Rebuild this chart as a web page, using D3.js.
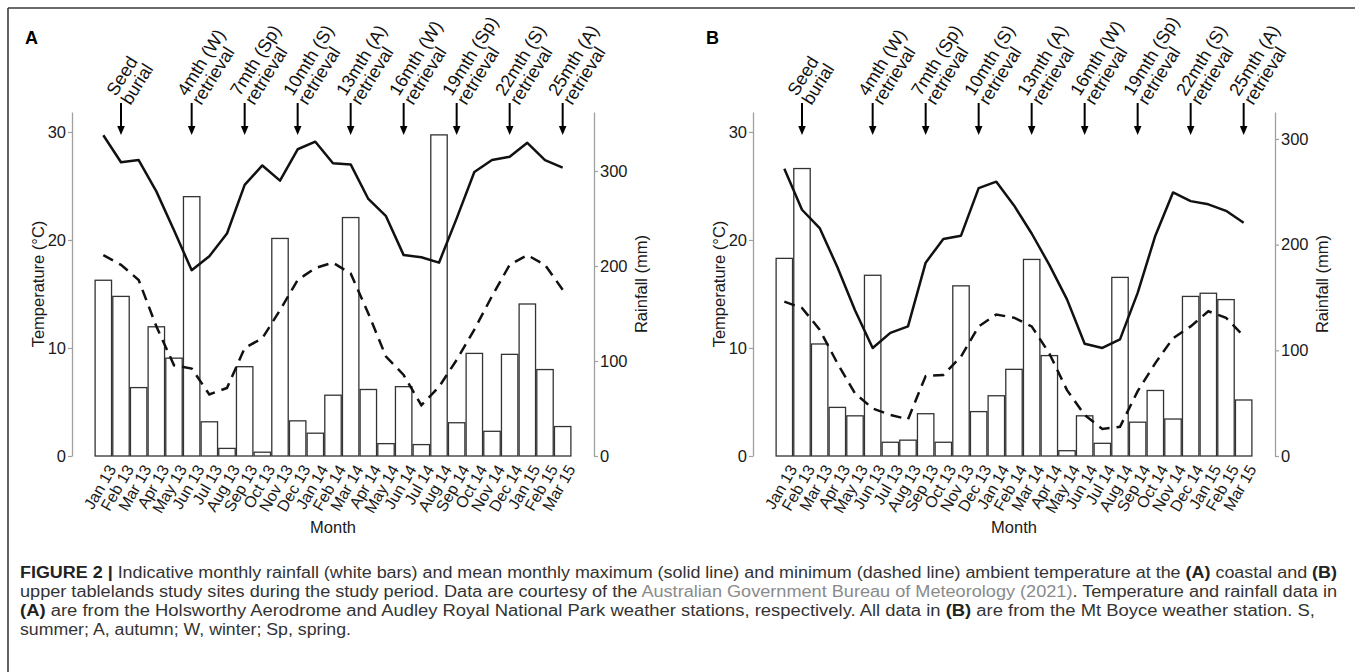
<!DOCTYPE html>
<html>
<head>
<meta charset="utf-8">
<script src="https://cdn.jsdelivr.net/npm/d3@7"></script>
<style>
  html, body { margin: 0; padding: 0; background: #fff; }
  svg { display: block; font-family: "Liberation Sans", Arial, Helvetica, sans-serif; }
</style>
</head>
<body>
<svg id="chart" width="1355" height="672"></svg>
<script>
// ---------- DATA ----------
const months = ["Jan 13","Feb 13","Mar 13","Apr 13","May 13","Jun 13","Jul 13","Aug 13","Sep 13","Oct 13","Nov 13","Dec 13",
                "Jan 14","Feb 14","Mar 14","Apr 14","May 14","Jun 14","Jul 14","Aug 14","Sep 14","Oct 14","Nov 14","Dec 14",
                "Jan 15","Feb 15","Mar 15"];

// Panel A (coastal)
const rainA = [185,168,72,136,103,273,36,8,94,4,229,37,24,64,251,70,13,73,12,338,35,108,26,107,160,91,31];
const maxA  = [29.7,27.2,27.4,24.5,20.9,17.2,18.5,20.6,25.1,26.9,25.5,28.4,29.1,27.1,27.0,23.8,22.2,18.6,18.4,17.9,22.0,26.3,27.4,27.7,29.0,27.4,26.7];
const minA  = [18.6,17.7,16.3,12.0,8.4,8.1,5.7,6.3,10.0,10.9,13.5,16.3,17.4,17.9,16.9,13.2,9.2,7.5,4.7,6.4,8.9,11.7,14.8,17.7,18.6,17.7,15.4];

// Panel B (upper tablelands)
const rainB = [187,272,106,46,38,171,13,15,40,13,161,42,57,82,186,95,5,38,12,169,32,62,35,151,154,148,53];
const maxB  = [26.6,22.8,21.1,17.5,13.5,10.0,11.4,12.0,17.9,20.1,20.4,24.8,25.4,23.2,20.6,17.7,14.5,10.4,10.0,10.8,15.1,20.4,24.4,23.6,23.3,22.7,21.6];
const minB  = [14.3,13.7,11.7,8.6,5.8,4.4,3.8,3.4,7.4,7.5,9.2,12.0,13.1,12.8,12.0,9.5,6.1,3.8,2.5,2.7,6.0,8.6,10.9,12.0,13.4,12.8,11.1];

const arrowMonths = ["Feb 13","Jun 13","Sep 13","Dec 13","Mar 14","Jun 14","Sep 14","Dec 14","Mar 15"];
const arrowLine1  = ["Seed","4mth (W)","7mth (Sp)","10mth (S)","13mth (A)","16mth (W)","19mth (Sp)","22mth (S)","25mth (A)"];
const arrowLine2  = ["burial","retrieval","retrieval","retrieval","retrieval","retrieval","retrieval","retrieval","retrieval"];

const tempTicks = [0, 10, 20, 30];
const rainTicks = [0, 100, 200, 300];

// ---------- DRAW ----------
const svg = d3.select("#chart");
svg.append("rect").attr("width", 1355).attr("height", 672).attr("fill", "#fff");

// outer frame (top + left visible)
svg.append("line").attr("x1", 8).attr("y1", 8).attr("x2", 1355).attr("y2", 8)
   .attr("stroke", "#3a3a3a").attr("stroke-width", 1.6);
svg.append("line").attr("x1", 8).attr("y1", 8).attr("x2", 8).attr("y2", 672)
   .attr("stroke", "#3a3a3a").attr("stroke-width", 1.6);

function panel(ox, label, rain, tmax, tmin, rainMax) {
  const g = svg.append("g").attr("transform", `translate(${ox},0)`);
  const yTop = 112, yBot = 456, xL = 72, xR = 594;

  const x = d3.scaleBand().domain(months).range([94.5, 571.5]).paddingInner(0.07).paddingOuter(0.035);
  const bw = x.bandwidth();
  const cx = m => x(m) + bw / 2;
  const yT = d3.scaleLinear().domain([0, 31.85]).range([yBot, yTop]);
  const yR = d3.scaleLinear().domain([0, rainMax]).range([yBot, yTop]);

  // bars
  g.selectAll("rect.bar").data(months).enter().append("rect")
    .attr("class", "bar")
    .attr("x", m => x(m))
    .attr("y", (m, i) => yR(rain[i]))
    .attr("width", bw)
    .attr("height", (m, i) => yBot - yR(rain[i]))
    .attr("fill", "#fff").attr("stroke", "#333").attr("stroke-width", 1.3);

  // lines
  const line = arr => d3.line().x((m) => cx(m)).y((m, i) => yT(arr[i]))(months);
  g.append("path").attr("d", line(tmin)).attr("fill", "none")
    .attr("stroke", "#111").attr("stroke-width", 2.5).attr("stroke-dasharray", "11,7");
  g.append("path").attr("d", line(tmax)).attr("fill", "none")
    .attr("stroke", "#111").attr("stroke-width", 2.5).attr("stroke-linejoin", "round");

  // axes
  const styleAxis = sel => {
    sel.selectAll("path.domain").attr("stroke", "#a0a0a0").attr("stroke-width", 1.3);
    sel.selectAll(".tick line").attr("stroke", "#a0a0a0").attr("stroke-width", 1.2);
    sel.selectAll(".tick text").attr("fill", "#1a1a1a").style("font-size", "16.5px")
       .style("font-family", "'Liberation Sans', Arial, sans-serif");
  };
  const axL = g.append("g").attr("transform", `translate(${xL},0)`)
    .call(d3.axisLeft(yT).tickValues(tempTicks).tickSize(4).tickSizeOuter(0).tickPadding(2));
  styleAxis(axL);
  const axR = g.append("g").attr("transform", `translate(${xR},0)`)
    .call(d3.axisRight(yR).tickValues(rainTicks).tickSize(4).tickSizeOuter(0).tickPadding(2));
  styleAxis(axR);

  const axB = g.append("g").attr("transform", `translate(0,${yBot})`)
    .call(d3.axisBottom(x).tickSize(0));
  axB.select("path.domain").remove();
  axB.selectAll(".tick text")
    .attr("x", 0).attr("y", 0).attr("dy", "0.75em")
    .attr("transform", "translate(3,7) rotate(-60)")
    .attr("text-anchor", "end")
    .attr("fill", "#1a1a1a").style("font-size", "16px")
    .style("font-family", "'Liberation Sans', Arial, sans-serif");

  // axis titles
  g.append("text").attr("x", (xL + xR) / 2).attr("y", 533).attr("text-anchor", "middle")
    .attr("fill", "#1a1a1a").style("font-size", "16.5px").text("Month");
  g.append("text").attr("transform", `translate(44,${(yTop + yBot) / 2}) rotate(-90)`)
    .attr("text-anchor", "middle").attr("fill", "#1a1a1a").style("font-size", "16.5px")
    .text("Temperature (°C)");
  g.append("text").attr("transform", `translate(647,${(yTop + yBot) / 2}) rotate(-90)`)
    .attr("text-anchor", "middle").attr("fill", "#1a1a1a").style("font-size", "16.5px")
    .text("Rainfall (mm)");

  // arrows + labels
  arrowMonths.forEach((m, k) => {
    const ax = cx(m);
    g.append("line").attr("x1", ax).attr("x2", ax).attr("y1", 103).attr("y2", 128)
      .attr("stroke", "#000").attr("stroke-width", 2);
    g.append("path").attr("d", `M${ax - 3.8},126 L${ax + 3.8},126 L${ax},135 Z`).attr("fill", "#000");
    const t = g.append("text").attr("transform", `translate(${ax - 5},97) rotate(-58)`)
      .attr("fill", "#111").style("font-size", "18px");
    t.append("tspan").attr("x", 0).attr("dy", 0).text(arrowLine1[k]);
    t.append("tspan").attr("x", 0).attr("dy", "0.95em").text(arrowLine2[k]);
  });

  // panel label
  g.append("text").attr("x", 25).attr("y", 44).attr("fill", "#000")
    .style("font-size", "18px").style("font-weight", "bold").text(label);
}

panel(0, "A", rainA, maxA, minA, 362.1);
panel(681, "B", rainB, maxB, minB, 325.5);

// ---------- CAPTION ----------
const capFont = "'Liberation Sans Narrow', 'Arial Narrow', 'Liberation Sans', Arial, sans-serif";
const capLines = [
  {y: 578, w: 1317, parts: [["FIGURE 2 |", "b"], [" Indicative monthly rainfall (white bars) and mean monthly maximum (solid line) and minimum (dashed line) ambient temperature at the ", "n"], ["(A)", "b"], [" coastal and ", "n"], ["(B)", "b"]]},
  {y: 597, w: 1317, parts: [["upper tablelands study sites during the study period. Data are courtesy of the ", "n"], ["Australian Government Bureau of Meteorology (2021)", "g"], [". Temperature and rainfall data in", "n"]]},
  {y: 616, w: 1295, parts: [["(A)", "b"], [" are from the Holsworthy Aerodrome and Audley Royal National Park weather stations, respectively. All data in ", "n"], ["(B)", "b"], [" are from the Mt Boyce weather station. S,", "n"]]},
  {y: 635, w: 331, parts: [["summer; A, autumn; W, winter; Sp, spring.", "n"]]}
];
capLines.forEach(L => {
  const t = svg.append("text").attr("x", 20).attr("y", L.y)
    .attr("textLength", L.w).attr("lengthAdjust", "spacingAndGlyphs")
    .style("font-family", capFont).style("font-size", "16px").attr("fill", "#333")
    .attr("xml:space", "preserve");
  L.parts.forEach(p => {
    const s = t.append("tspan").text(p[0]);
    if (p[1] === "b") s.style("font-weight", "bold").attr("fill", "#222");
    if (p[1] === "g") s.attr("fill", "#8a8a8a");
  });
});
</script>
</body>
</html>
